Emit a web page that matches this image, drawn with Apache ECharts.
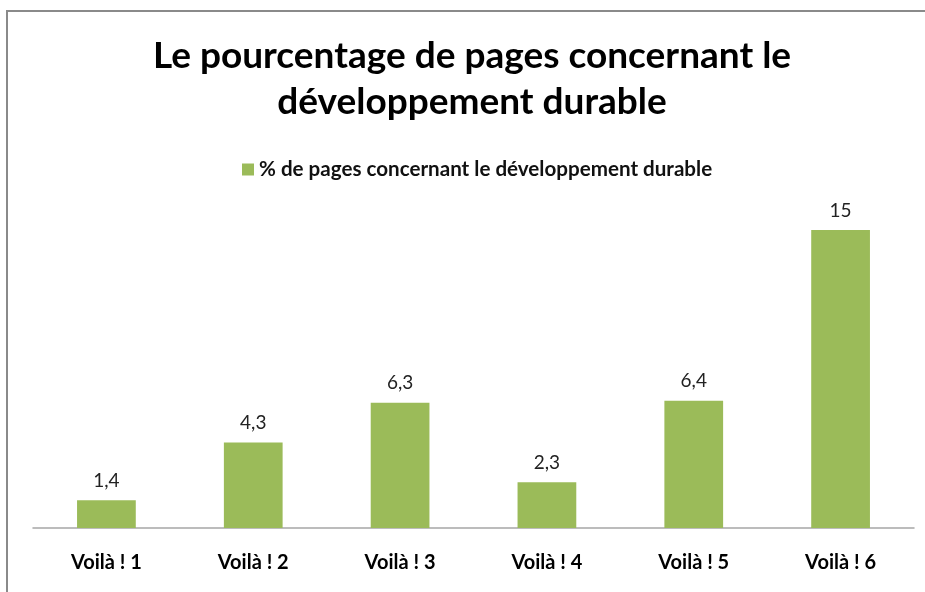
<!DOCTYPE html>
<html>
<head>
<meta charset="utf-8">
<script src="https://cdn.jsdelivr.net/npm/echarts@6/dist/echarts.min.js"></script>
<style>
  html, body { margin: 0; padding: 0; background: #fff; }
  #chart { width: 925px; height: 592px; }
</style>
</head>
<body>
<div id="chart"></div>
<script>
// données du graphique
const categories = ['Voilà ! 1', 'Voilà ! 2', 'Voilà ! 3', 'Voilà ! 4', 'Voilà ! 5', 'Voilà ! 6'];
const values = [1.4, 4.3, 6.3, 2.3, 6.4, 15];
const seriesName = '% de pages concernant le développement durable';
const titleText = 'Le pourcentage de pages concernant le\ndéveloppement durable';

const font = 'Lato, "Open Sans", sans-serif';

const myChart = echarts.init(document.getElementById('chart'));
myChart.setOption({
  backgroundColor: '#fff',
  animation: false,
  title: {
    text: titleText,
    left: 467,
    top: 28,
    textAlign: 'center',
    textStyle: {
      fontFamily: font,
      fontSize: 37,
      fontWeight: 'bold',
      color: '#000',
      lineHeight: 46
    }
  },
  legend: {
    data: [seriesName],
    top: 154,
    left: 237,
    itemWidth: 12,
    itemHeight: 12,
    itemGap: 6,
    icon: 'rect',
    textStyle: {
      fontFamily: font,
      fontSize: 20.6,
      fontWeight: 'bold',
      color: '#111'
    }
  },
  grid: {
    left: 33,
    right: 11,
    top: 210,
    bottom: 64
  },
  xAxis: {
    type: 'category',
    data: categories,
    axisTick: { show: false },
    axisLine: { lineStyle: { color: '#a6a6a6', width: 1.5 } },
    axisLabel: {
      margin: 25,
      interval: 0,
      fontFamily: font,
      fontSize: 20,
      fontWeight: 'bold',
      color: '#000'
    }
  },
  yAxis: {
    type: 'value',
    min: 0,
    max: 16,
    interval: 2,
    show: false,
    splitLine: { show: false }
  },
  series: [
    {
      name: seriesName,
      type: 'bar',
      data: values,
      barWidth: '40%',
      itemStyle: { color: '#9bbb59' },
      label: {
        show: true,
        position: 'top',
        distance: 10,
        fontFamily: font,
        fontSize: 19,
        color: '#222',
        formatter: (p) => String(p.value).replace('.', ',')
      }
    }
  ],
  graphic: [
    {
      type: 'rect',
      shape: { x: 7, y: 11, width: 930, height: 600 },
      style: { fill: 'none', stroke: '#8a8a8a', lineWidth: 2 },
      silent: true
    }
  ]
});
</script>
</body>
</html>
